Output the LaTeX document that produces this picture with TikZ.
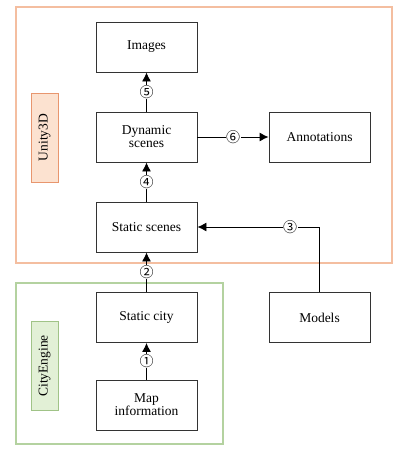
\documentclass[tikz,border=0pt]{standalone}
\usepackage{fontspec}
\setmainfont{Liberation Serif}
\newfontfamily\numfont{Noto Sans CJK SC}
\usetikzlibrary{arrows.meta}
\definecolor{orframe}{RGB}{244,190,160}
\definecolor{orfill}{RGB}{252,226,208}
\definecolor{orline}{RGB}{232,150,110}
\definecolor{grframe}{RGB}{180,210,160}
\definecolor{grfill}{RGB}{226,240,214}
\definecolor{grline}{RGB}{160,195,135}
\tikzset{
	box/.style={draw=black!80,line width=0.9pt,minimum width=101pt,minimum height=50pt,align=center,inner sep=1pt},
	numlab/.style={fill=white,inner sep=0.5pt,font=\numfont\fontsize{14}{14}\selectfont},
	side/.style={rotate=90,minimum width=89pt,minimum height=27pt,line width=0.9pt},
}
\newcommand{\myhead}{-{Latex[length=9pt,width=9pt]}}

\begin{document}
\begin{tikzpicture}[x=1pt,y=-1pt,font=\fontsize{13.5}{15}\selectfont]
		\useasboundingbox (0,0) rectangle (416,450);
		% frames
		\draw[orframe,line width=1.2pt] (16,7) rectangle (392,263);
		\draw[grframe,line width=1.5pt] (16,283) rectangle (223,444);
		\node[side,draw=orline,fill=orfill] (unity) at (44.5,137.5) {Unity3D};
		\node[side,draw=grline,fill=grfill] (ce) at (44.5,366) {CityEngine};
		% boxes
		\node[box] (img) at (146.5,47) {Images};
		\node[box] (dyn) at (146.5,137) {Dynamic\\[-2pt]scenes};
		\node[box] (ann) at (319.5,137) {Annotations};
		\node[box] (ss) at (146.5,227) {Static scenes};
		\node[box] (sc) at (146.5,317.5) {Static city};
		\node[box] (mod) at (319.5,317.5) {Models};
		\node[box] (map) at (146.5,405) {Map\\[-2pt]information};
		% arrows
		\draw[line width=0.9pt,\myhead] (map) -- node[numlab] {①} (sc);
		\draw[line width=0.9pt,\myhead] (sc) -- node[numlab] {②} (ss);
		\draw[line width=0.9pt,\myhead] (mod.north) |- node[numlab,pos=0.62] {③} (ss.east);
		\draw[line width=0.9pt,\myhead] (ss) -- node[numlab] {④} (dyn);
		\draw[line width=0.9pt,\myhead] (dyn) -- node[numlab] {⑤} (img);
		\draw[line width=0.9pt,\myhead] (dyn) -- node[numlab] {⑥} (ann);
\end{tikzpicture}
\end{document}
